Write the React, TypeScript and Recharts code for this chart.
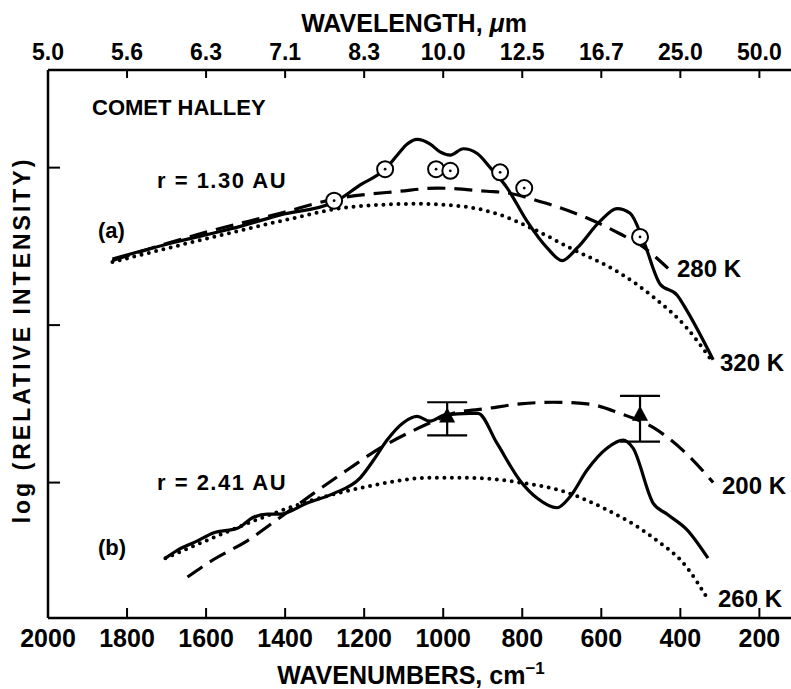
import React from 'react';
import { ComposedChart, Line, Scatter, XAxis, YAxis, ErrorBar } from 'recharts';

const wavenumberTicks = [2000, 1800, 1600, 1400, 1200, 1000, 800, 600, 400, 200];
const wavelengthLabels = ['5.0', '5.6', '6.3', '7.1', '8.3', '10.0', '12.5', '16.7', '25.0', '50.0'];
const intensityTicks = [1, 2, 3];

// (a) r = 1.30 AU, observed spectrum
const spectrumA = [
  { wn: 1837, v: 2.42 }, { wn: 1690, v: 2.52 }, { wn: 1539, v: 2.61 }, { wn: 1412, v: 2.7 },
  { wn: 1276, v: 2.78 }, { wn: 1210, v: 2.89 }, { wn: 1147, v: 2.99 }, { wn: 1116, v: 3.08 },
  { wn: 1091, v: 3.15 }, { wn: 1066, v: 3.18 }, { wn: 1033, v: 3.15 }, { wn: 1008, v: 3.1 },
  { wn: 982, v: 3.08 }, { wn: 949, v: 3.12 }, { wn: 914, v: 3.09 }, { wn: 881, v: 3.0 },
  { wn: 838, v: 2.87 }, { wn: 788, v: 2.66 }, { wn: 737, v: 2.49 }, { wn: 699, v: 2.41 },
  { wn: 661, v: 2.49 }, { wn: 603, v: 2.66 }, { wn: 560, v: 2.74 }, { wn: 527, v: 2.71 },
  { wn: 494, v: 2.54 }, { wn: 451, v: 2.26 }, { wn: 408, v: 2.19 }, { wn: 383, v: 2.09 },
  { wn: 317, v: 1.78 },
];
// (a) 280 K blackbody (dashed)
const bb280 = [
  { wn: 1837, v: 2.41 }, { wn: 1615, v: 2.58 }, { wn: 1412, v: 2.71 }, { wn: 1276, v: 2.8 },
  { wn: 1109, v: 2.85 }, { wn: 1015, v: 2.87 }, { wn: 889, v: 2.85 }, { wn: 838, v: 2.84 },
  { wn: 762, v: 2.79 }, { wn: 722, v: 2.76 }, { wn: 636, v: 2.68 }, { wn: 553, v: 2.58 },
  { wn: 502, v: 2.51 }, { wn: 431, v: 2.36 },
];
// (a) 320 K blackbody (dotted)
const bb320 = [
  { wn: 1837, v: 2.4 }, { wn: 1614, v: 2.54 }, { wn: 1412, v: 2.66 }, { wn: 1235, v: 2.75 },
  { wn: 1066, v: 2.77 }, { wn: 939, v: 2.75 }, { wn: 856, v: 2.7 }, { wn: 772, v: 2.61 },
  { wn: 679, v: 2.49 }, { wn: 553, v: 2.33 }, { wn: 469, v: 2.18 }, { wn: 383, v: 1.98 },
  { wn: 325, v: 1.79 },
];
// (a) photometry points
const photometryA = [
  { wn: 1276, v: 2.79 }, { wn: 1147, v: 2.99 }, { wn: 1018, v: 2.99 }, { wn: 982, v: 2.98 },
  { wn: 856, v: 2.97 }, { wn: 795, v: 2.87 }, { wn: 502, v: 2.56 },
];

// (b) r = 2.41 AU, observed spectrum
const spectrumB = [
  { wn: 1703, v: 0.52 }, { wn: 1673, v: 0.57 }, { wn: 1622, v: 0.63 }, { wn: 1582, v: 0.68 },
  { wn: 1521, v: 0.71 }, { wn: 1480, v: 0.78 }, { wn: 1445, v: 0.8 }, { wn: 1412, v: 0.8 },
  { wn: 1344, v: 0.87 }, { wn: 1278, v: 0.93 }, { wn: 1210, v: 1.03 }, { wn: 1177, v: 1.14 },
  { wn: 1142, v: 1.27 }, { wn: 1101, v: 1.38 }, { wn: 1066, v: 1.42 }, { wn: 1033, v: 1.39 },
  { wn: 995, v: 1.43 }, { wn: 932, v: 1.44 }, { wn: 912, v: 1.44 }, { wn: 864, v: 1.25 },
  { wn: 805, v: 1.01 }, { wn: 762, v: 0.9 }, { wn: 712, v: 0.84 }, { wn: 679, v: 0.91 },
  { wn: 636, v: 1.08 }, { wn: 585, v: 1.22 }, { wn: 545, v: 1.27 }, { wn: 520, v: 1.22 },
  { wn: 469, v: 0.87 }, { wn: 434, v: 0.8 }, { wn: 383, v: 0.7 }, { wn: 330, v: 0.52 },
];
// (b) 200 K blackbody (dashed)
const bb200 = [
  { wn: 1647, v: 0.4 }, { wn: 1582, v: 0.51 }, { wn: 1496, v: 0.63 }, { wn: 1412, v: 0.78 },
  { wn: 1329, v: 0.93 }, { wn: 1243, v: 1.08 }, { wn: 1159, v: 1.22 }, { wn: 1076, v: 1.33 },
  { wn: 1033, v: 1.38 }, { wn: 975, v: 1.44 }, { wn: 889, v: 1.47 }, { wn: 805, v: 1.5 },
  { wn: 722, v: 1.51 }, { wn: 636, v: 1.5 }, { wn: 553, v: 1.44 }, { wn: 469, v: 1.35 },
  { wn: 383, v: 1.18 }, { wn: 317, v: 1.0 },
];
// (b) 260 K blackbody (dotted)
const bb260 = [
  { wn: 1703, v: 0.52 }, { wn: 1582, v: 0.65 }, { wn: 1455, v: 0.78 }, { wn: 1329, v: 0.89 },
  { wn: 1202, v: 0.97 }, { wn: 1033, v: 1.03 }, { wn: 932, v: 1.03 }, { wn: 805, v: 1.0 },
  { wn: 704, v: 0.95 }, { wn: 596, v: 0.84 }, { wn: 469, v: 0.65 }, { wn: 383, v: 0.46 },
  { wn: 333, v: 0.27 },
];
// (b) photometry with error bars [below, above]
const photometryB = [
  { wn: 990, v: 1.42, err: [0.12, 0.09] },
  { wn: 502, v: 1.43, err: [0.17, 0.12] },
];

const FONT = '"Liberation Sans", Arial, sans-serif';
const tickStyle = { fill: '#000', fontFamily: FONT, fontWeight: 700 };

const CircleMark = (props: any) => (
  <g>
    <circle cx={props.cx} cy={props.cy} r={8} fill="#fff" stroke="#000" strokeWidth={2} />
    <circle cx={props.cx} cy={props.cy} r={1.4} fill="#000" />
  </g>
);

const TriangleMark = (props: any) => {
  const { cx, cy } = props;
  return <polygon points={`${cx},${cy - 9} ${cx - 8},${cy + 6} ${cx + 8},${cy + 6}`} fill="#000" />;
};

export default function App() {
  const solid = { stroke: '#000', strokeWidth: 3.2, dot: false, isAnimationActive: false, type: 'monotone' as const };
  const dashed = { ...solid, strokeDasharray: '18 9' };
  const dotted = { ...solid, strokeWidth: 4, strokeDasharray: '0 7.5', strokeLinecap: 'round' as const };
  return (
    <div style={{ position: 'absolute', left: 0, top: 0, width: 791, height: 689, background: '#fff' }}>
      <ComposedChart width={791} height={689} margin={{ top: 40, right: 0, bottom: 31, left: 28 }}>
        <XAxis
          type="number"
          dataKey="wn"
          domain={[120, 2000]}
          reversed
          allowDataOverflow
          ticks={wavenumberTicks}
          interval={0}
          height={40}
          tickSize={-10}
          tickMargin={21}
          axisLine={{ stroke: '#000', strokeWidth: 2.5 }}
          tickLine={{ stroke: '#000', strokeWidth: 2 }}
          tick={{ ...tickStyle, fontSize: 25 }}
        />
        <XAxis
          xAxisId="top"
          orientation="top"
          type="number"
          dataKey="wn"
          domain={[120, 2000]}
          reversed
          allowDataOverflow
          ticks={wavenumberTicks}
          interval={0}
          height={30}
          tickSize={-8}
          tickMargin={18}
          tickFormatter={(v: number) => wavelengthLabels[wavenumberTicks.indexOf(v)]}
          axisLine={{ stroke: '#000', strokeWidth: 2.5 }}
          tickLine={{ stroke: '#000', strokeWidth: 2 }}
          tick={{ ...tickStyle, fontSize: 23 }}
        />
        <YAxis
          type="number"
          domain={[0.14, 3.62]}
          allowDataOverflow
          ticks={intensityTicks}
          interval={0}
          width={20}
          tickSize={-12}
          tickFormatter={() => ''}
          axisLine={{ stroke: '#000', strokeWidth: 2.5 }}
          tickLine={{ stroke: '#000', strokeWidth: 2 }}
        />
        <Line data={bb320} dataKey="v" {...dotted} />
        <Line data={bb280} dataKey="v" {...dashed} />
        <Line data={spectrumA} dataKey="v" {...solid} />
        <Line data={bb260} dataKey="v" {...dotted} />
        <Line data={bb200} dataKey="v" {...dashed} />
        <Line data={spectrumB} dataKey="v" {...solid} />
        <Scatter data={photometryA} dataKey="v" shape={CircleMark} isAnimationActive={false} />
        <Scatter data={photometryB} dataKey="v" shape={TriangleMark} isAnimationActive={false}>
          <ErrorBar dataKey="err" direction="y" width={20} stroke="#000" strokeWidth={2.2} />
        </Scatter>
      </ComposedChart>
      <svg
        width={791}
        height={689}
        style={{ position: 'absolute', left: 0, top: 0, pointerEvents: 'none' }}
        fontFamily={FONT}
        fontWeight={700}
        fill="#000"
      >
        <text x={414} y={32} fontSize={25} textAnchor="middle">
          WAVELENGTH, <tspan fontStyle="italic">μ</tspan>m
        </text>
        <text x={92} y={115} fontSize={22}>COMET HALLEY</text>
        <text x={157} y={188} fontSize={22} letterSpacing={1.5}>r = 1.30 AU</text>
        <text x={98} y={238} fontSize={22}>(a)</text>
        <text x={677} y={277} fontSize={24}>280 K</text>
        <text x={720} y={371} fontSize={24}>320 K</text>
        <text x={157} y={490} fontSize={22} letterSpacing={1.5}>r = 2.41 AU</text>
        <text x={98} y={555} fontSize={22}>(b)</text>
        <text x={722} y={494} fontSize={24}>200 K</text>
        <text x={718} y={607} fontSize={24}>260 K</text>
        <text x={411} y={684} fontSize={25} textAnchor="middle">
          WAVENUMBERS, cm<tspan dy={-10} fontSize={17}>−1</tspan>
        </text>
        <text
          x={22}
          y={340}
          fontSize={23}
          letterSpacing={3}
          textAnchor="middle"
          dominantBaseline="central"
          transform="rotate(-90 22 340)"
        >
          log (RELATIVE INTENSITY)
        </text>
      </svg>
    </div>
  );
}
